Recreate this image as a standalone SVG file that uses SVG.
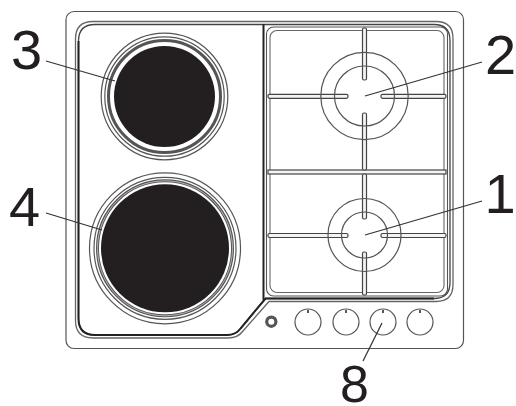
<svg xmlns="http://www.w3.org/2000/svg" width="516" height="406" viewBox="0 0 516 406">
<style>
.lbl{font-family:"Liberation Sans",Arial,sans-serif;font-size:56px;fill:#231f20}
.o{fill:none;stroke:#555;stroke-width:1.200}
.bar{fill:#f4f4f4;stroke:#444;stroke-width:1.200}
.lead{fill:none;stroke:#333;stroke-width:1.200}
.ring{fill:none;stroke:#555;stroke-width:1.200}
.band{fill:none;stroke:#555;stroke-width:3}
.disc{fill:#231f20}
.tick{stroke:#222;stroke-width:1.500}
</style>
<rect width="516" height="406" fill="#fff"/>
<g id="hob">
<rect class="o" x="66" y="11.500" width="397.500" height="337" rx="8"/>
<path d="M93 21.500H436Q453 21.500 453 38.500V284.500Q453 301.500 436 301.500H269L243 331Q238 338 228 338H93Q75.500 338 75.500 320.500V39Q75.500 21.500 93 21.500Z" fill="none" stroke="#666" stroke-width="1.300"/>
<path d="M95 24.500H434Q450 24.500 450 40.500V282.500Q450 298.500 434 298.500H265.500L240.500 328.500Q236 335 227 335H95Q78.500 335 78.500 318.500V41Q78.500 24.500 95 24.500Z" fill="none" stroke="#444" stroke-width="1.300"/>
<path d="M78.500 41V318.500Q78.500 335 95 335H227Q236 335 240.500 328.500L265.500 298.500H434" fill="none" stroke="#222" stroke-width="2"/>
<path d="M263.500 24V300" stroke="#222" stroke-width="2" fill="none"/>
</g>
<g id="grate">
<rect x="266.500" y="27" width="181" height="269" rx="7" fill="none" stroke="#555" stroke-width="1.100"/>
<rect x="270" y="30.500" width="174" height="262" rx="7" fill="none" stroke="#666" stroke-width="1.100"/>
<rect class="bar" x="268" y="170" width="178" height="4"/>
</g>
<g id="burner-3">
<circle cx="164.500" cy="96.500" r="63.300" class="ring"/>
<circle cx="164.500" cy="96.500" r="59.700" class="ring"/>
<circle cx="164.500" cy="96.500" r="56" class="band"/>
<circle cx="164.500" cy="96.500" r="50.500" class="disc"/>
</g>
<g id="burner-4">
<circle cx="165" cy="248.300" r="75.500" class="ring"/>
<circle cx="165" cy="248.300" r="71" class="ring"/>
<circle cx="165" cy="248.300" r="67.500" class="band"/>
<circle cx="165" cy="248.300" r="67.500" fill="none" stroke="#ddd" stroke-width=".7"/>
<circle cx="165" cy="248.300" r="64" class="disc"/>
</g>
<g id="burner-2">
<rect class="bar" x="268" y="94.300" width="80" height="4" rx="1.500"/>
<rect class="bar" x="381" y="94.300" width="65" height="4" rx="1.500"/>
<rect class="bar" x="362.500" y="28" width="4" height="52" rx="1.500"/>
<rect class="bar" x="362.500" y="113" width="4" height="57" rx="1.500"/>
<circle cx="364.500" cy="96" r="43.700" class="ring"/>
<circle cx="364.500" cy="96" r="30" class="ring"/>
</g>
<g id="burner-1">
<rect class="bar" x="268" y="233.500" width="80" height="4" rx="1.500"/>
<rect class="bar" x="381" y="233.500" width="65" height="4" rx="1.500"/>
<rect class="bar" x="362.500" y="174" width="4" height="45" rx="1.500"/>
<rect class="bar" x="362.500" y="252" width="4" height="43" rx="1.500"/>
<circle cx="364.500" cy="235" r="36.500" class="ring"/>
<circle cx="364.500" cy="235" r="23" class="ring"/>
</g>
<g id="controls">
<circle cx="271.300" cy="321.700" r="4.600" fill="none" stroke="#555" stroke-width="3.200"/>
<g id="knob-1"><circle cx="308" cy="322" r="13" class="ring"/><path class="tick" d="M308 310v3"/></g>
<g id="knob-2"><circle cx="346" cy="322" r="13" class="ring"/><path class="tick" d="M346 310v3"/></g>
<g id="knob-3"><circle cx="383" cy="322" r="13" class="ring"/><path class="tick" d="M383 310v3"/></g>
<g id="knob-4"><circle cx="420" cy="322" r="13" class="ring"/><path class="tick" d="M420 310v3"/></g>
</g>
<g id="connectors">
<path class="lead" d="M46 61L115 81"/>
<path class="lead" d="M46 213L102 230"/>
<path class="lead" d="M482 62L365 96"/>
<path class="lead" d="M482 201L365 235"/>
<path class="lead" d="M382 323L363 361"/>
</g>
<g id="labels">
<text class="lbl" x="11" y="69">3</text>
<text class="lbl" x="9" y="226">4</text>
<text class="lbl" x="485" y="74">2</text>
<text class="lbl" x="484.500" y="213">1</text>
<text class="lbl" x="340" y="402" style="font-size:52px">8</text>
</g>
</svg>
